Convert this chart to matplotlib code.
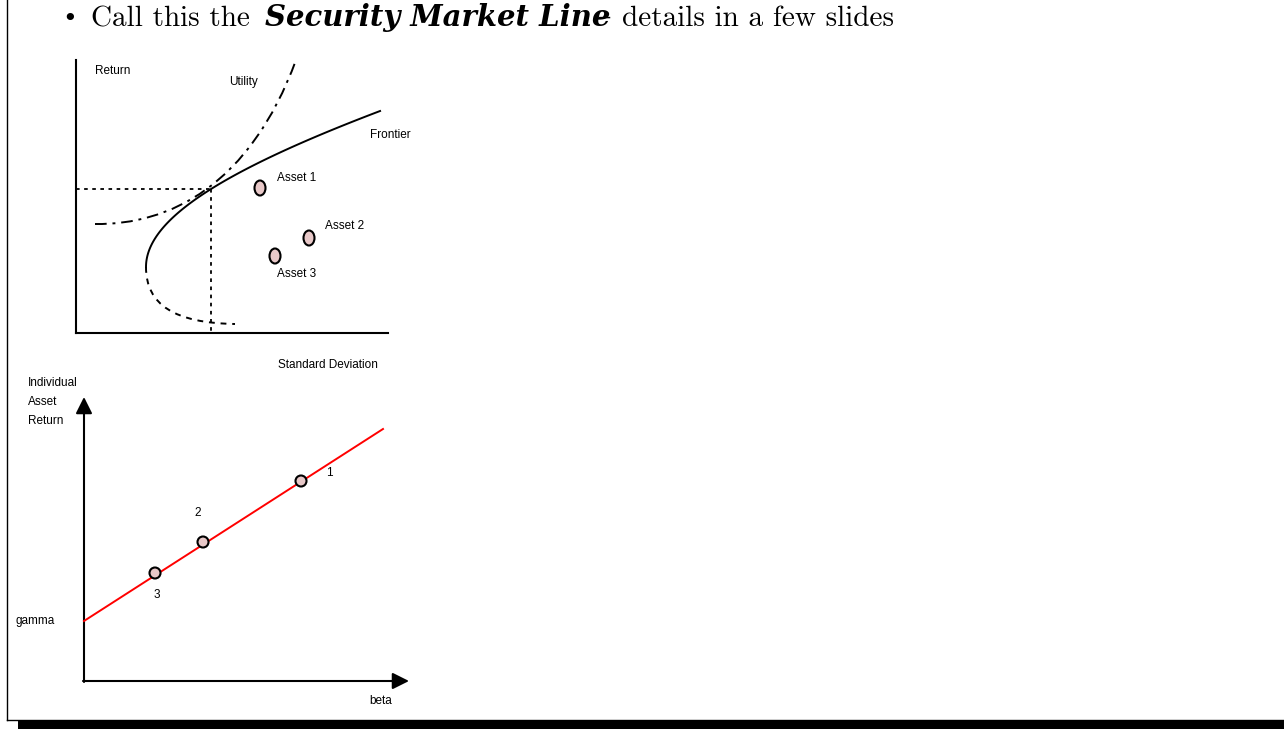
import numpy as np
import matplotlib.pyplot as plt
from matplotlib.patches import Ellipse, Circle, FancyArrowPatch
from matplotlib.path import Path
from matplotlib.patches import PathPatch

# positions are in slide pixels (x right, y down)
asset_names = ["Asset 1", "Asset 2", "Asset 3"]
asset_x = [260, 309, 275]
asset_y = [188, 238, 256]
asset_label_xy = [(277, 178), (325, 226), (277, 274)]

sml_names = ["1", "2", "3"]
sml_x = [301, 203, 155]
sml_y = [481, 542, 573]
sml_label_xy = [(329, 473), (198, 513), (157, 595)]

label_font = ["Liberation Sans", "DejaVu Sans"]
title_font = ["cmr10", "DejaVu Serif"]

fig = plt.figure(figsize=(12.84, 7.29), dpi=100)
ax = fig.add_axes([0, 0, 1, 1])
ax.set_xlim(0, 1284)
ax.set_ylim(729, 0)
ax.axis("off")

# slide frame
ax.plot([7, 7], [0, 720], color="black", lw=1)
ax.plot([7, 1284], [720, 720], color="black", lw=1)
ax.fill_between([18, 1284], 721, 729, color="black", lw=0)

# title
ax.text(62, 26, "•", fontsize=18, family="DejaVu Serif", va="baseline")
ax.text(91, 26, "Call this the", fontsize=21, family=title_font, va="baseline")
ax.text(265, 26, "Security Market Line", fontsize=21, family="DejaVu Serif",
        style="italic", weight="bold", va="baseline")
ax.text(597, 26, "–", fontsize=21, family="DejaVu Serif", va="baseline")
ax.text(622, 26, "details in a few slides", fontsize=21, family=title_font, va="baseline")

# ---- top diagram ----
ax.plot([76, 76], [60, 333], color="black", lw=1.5)
ax.plot([76, 388], [333, 333], color="black", lw=1.5)

# efficient frontier (upper branch, hyperbola)
dy = np.linspace(0, 156, 100)
fx = 146 + 724 * (np.sqrt(1 + (dy / 180) ** 2) - 1)
ax.plot(fx, 267 - dy, color="black", lw=1.4)

# lower branch, dashed
lower = Path([(146, 267), (146, 305), (175, 323), (235, 324)],
             [Path.MOVETO, Path.CURVE4, Path.CURVE4, Path.CURVE4])
ax.add_patch(PathPatch(lower, fill=False, lw=1.4, ls=(0, (3, 3))))

# utility curve
util = Path([(95, 224), (170, 225), (250, 185), (296, 60)],
            [Path.MOVETO, Path.CURVE4, Path.CURVE4, Path.CURVE4])
ax.add_patch(PathPatch(util, fill=False, lw=1.4, ls=(0, (6, 3, 1.5, 3))))

ax.plot([76, 211], [189, 189], color="black", lw=1.3, ls=(0, (2, 2.5)))
ax.plot([211, 211], [189, 333], color="black", lw=1.3, ls=(0, (2, 2.5)))

for name, x, y, (lx, ly) in zip(asset_names, asset_x, asset_y, asset_label_xy):
    ax.add_patch(Ellipse((x, y), 11, 15, facecolor="#e8c8c8", edgecolor="black", lw=1.5))
    ax.text(lx, ly, name, fontsize=8.5, family=label_font, va="center")

ax.text(95, 71, "Return", fontsize=8.5, family=label_font, va="center")
ax.text(229, 82, "Utility", fontsize=8.5, family=label_font, va="center")
ax.text(370, 135, "Frontier", fontsize=8.5, family=label_font, va="center")
ax.text(278, 365, "Standard Deviation", fontsize=8.5, family=label_font, va="center")

# ---- bottom diagram ----
ax.add_patch(FancyArrowPatch((84, 682), (84, 397), arrowstyle="-|>,head_length=10,head_width=5",
                             color="black", lw=1.5, mutation_scale=1, shrinkA=0, shrinkB=0))
ax.add_patch(FancyArrowPatch((83, 681), (409, 681), arrowstyle="-|>,head_length=10,head_width=5",
                             color="black", lw=1.5, mutation_scale=1, shrinkA=0, shrinkB=0))
ax.plot([84, 383], [621, 429], color="red", lw=1.4)

for name, x, y, (lx, ly) in zip(sml_names, sml_x, sml_y, sml_label_xy):
    ax.add_patch(Circle((x, y), 5.5, facecolor="#e8c8c8", edgecolor="black", lw=1.5, zorder=3))
    ax.text(lx, ly, name, fontsize=8.5, family=label_font, ha="center", va="center")

for i, word in enumerate(["Individual", "Asset", "Return"]):
    ax.text(28, 383 + 19 * i, word, fontsize=8.5, family=label_font, va="center")
ax.text(16, 621, "gamma", fontsize=8.5, family=label_font, va="center")
ax.text(369, 701, "beta", fontsize=8.5, family=label_font, va="center")

fig.savefig("out.png", dpi=100)
